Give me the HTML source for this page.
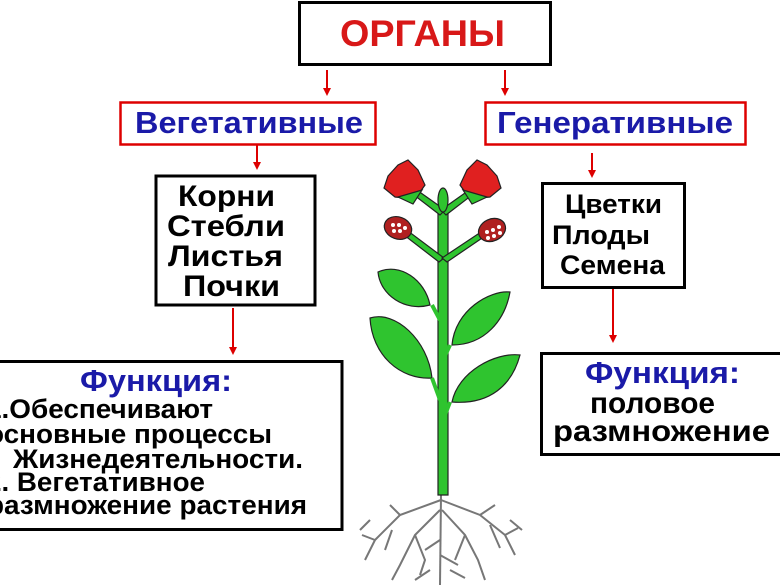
<!DOCTYPE html>
<html><head><meta charset="utf-8"><style>
html,body{margin:0;padding:0;background:#fff;width:780px;height:587px;overflow:hidden}
svg{display:block}
text{font-family:"Liberation Sans",Arial,sans-serif;font-weight:bold}
</style></head><body>
<svg width="780" height="587" viewBox="0 0 780 587" xmlns="http://www.w3.org/2000/svg">
<defs><marker id="ah" markerWidth="8" markerHeight="8" refX="4" refY="4" orient="auto" markerUnits="userSpaceOnUse"><path d="M0,0 L8,4 L0,8 z" fill="#d00"/></marker></defs>
<rect x="299.5" y="2.5" width="251" height="62" fill="#fff" stroke="#000" stroke-width="3"/>
<text x="340" y="46" font-size="37" fill="#d81818" textLength="165" lengthAdjust="spacingAndGlyphs">ОРГАНЫ</text>
<g stroke="#d00" stroke-width="2" fill="none">
<line x1="327" y1="70" x2="327" y2="92" marker-end="url(#ah)"/>
<line x1="505" y1="70" x2="505" y2="92" marker-end="url(#ah)"/>
<line x1="257" y1="144" x2="257" y2="166" marker-end="url(#ah)"/>
<line x1="592" y1="153" x2="592" y2="174" marker-end="url(#ah)"/>
<line x1="233" y1="308" x2="233" y2="351" marker-end="url(#ah)"/>
<line x1="613" y1="288" x2="613" y2="339" marker-end="url(#ah)"/>
</g>
<rect x="120.5" y="102.5" width="255" height="42" fill="#fff" stroke="#d00" stroke-width="2.5"/>
<text x="135" y="133" font-size="31" fill="#1a1aa8" textLength="228" lengthAdjust="spacingAndGlyphs">Вегетативные</text>
<rect x="485.5" y="102.5" width="260" height="42" fill="#fff" stroke="#d00" stroke-width="2.5"/>
<text x="497" y="133" font-size="31" fill="#1a1aa8" textLength="236" lengthAdjust="spacingAndGlyphs">Генеративные</text>
<rect x="156" y="176" width="159" height="129" fill="#fff" stroke="#000" stroke-width="3"/>
<g font-size="30" fill="#000">
<text x="178" y="206" textLength="97" lengthAdjust="spacingAndGlyphs">Корни</text>
<text x="167" y="236" textLength="118" lengthAdjust="spacingAndGlyphs">Стебли</text>
<text x="168" y="266" textLength="115" lengthAdjust="spacingAndGlyphs">Листья</text>
<text x="183" y="296" textLength="97" lengthAdjust="spacingAndGlyphs">Почки</text>
</g>
<rect x="542.5" y="183.5" width="142" height="104" fill="#fff" stroke="#000" stroke-width="3"/>
<g font-size="27" fill="#000">
<text x="565" y="213" textLength="97" lengthAdjust="spacingAndGlyphs">Цветки</text>
<text x="552" y="244" textLength="98" lengthAdjust="spacingAndGlyphs">Плоды</text>
<text x="560" y="274" textLength="105" lengthAdjust="spacingAndGlyphs">Семена</text>
</g>
<rect x="-5" y="361.5" width="347" height="168" fill="#fff" stroke="#000" stroke-width="3"/>
<text x="80" y="391" font-size="31" fill="#1a1aa8" textLength="152" lengthAdjust="spacingAndGlyphs">Функция:</text>
<g font-size="27" fill="#000">
<text x="-14" y="418" textLength="227" lengthAdjust="spacingAndGlyphs">1.Обеспечивают</text>
<text x="-13" y="443" textLength="285" lengthAdjust="spacingAndGlyphs">основные процессы</text>
<text x="13" y="468" textLength="290" lengthAdjust="spacingAndGlyphs">Жизнедеятельности.</text>
<text x="-14" y="491" textLength="219" lengthAdjust="spacingAndGlyphs">2. Вегетативное</text>
<text x="-13" y="514" textLength="320" lengthAdjust="spacingAndGlyphs">размножение растения</text>
</g>
<rect x="541.5" y="353.5" width="245" height="101" fill="#fff" stroke="#000" stroke-width="3"/>
<text x="585" y="383" font-size="31" fill="#1a1aa8" textLength="155" lengthAdjust="spacingAndGlyphs">Функция:</text>
<text x="590" y="413" font-size="30" fill="#000" textLength="125" lengthAdjust="spacingAndGlyphs">половое</text>
<text x="553" y="441" font-size="30" fill="#000" textLength="217" lengthAdjust="spacingAndGlyphs">размножение</text>
<g stroke="#222" stroke-width="1.2">
<g stroke="#777" stroke-width="2" fill="none">
<path d="M441 495 L440 585"/><path d="M441 500 L400 515 L375 540 L365 560"/><path d="M441 500 L480 515 L505 535 L515 555"/>
<path d="M440 510 L415 535 L400 565 L392 580"/><path d="M442 510 L465 535 L478 560 L485 580"/>
<path d="M400 515 L390 505"/><path d="M480 515 L495 505"/><path d="M375 540 L362 535"/><path d="M505 535 L518 528"/>
<path d="M415 535 L425 560 L420 575"/><path d="M465 535 L455 560"/><path d="M440 540 L425 550"/><path d="M440 555 L458 565"/>
<path d="M392 530 L385 550"/><path d="M490 525 L500 548"/><path d="M370 520 L360 530"/><path d="M510 520 L522 530"/>
<path d="M450 570 L465 578"/><path d="M430 570 L415 580"/>
</g>
<path d="M438 495 L438 210 L448 210 L448 495 Z" fill="#2fc42f"/>
<path d="M440 215 L410 192 L414 188 L445 210 Z" fill="#2fc42f"/>
<path d="M446 215 L476 192 L472 188 L441 210 Z" fill="#2fc42f"/>
<path d="M439 262 L400 232 L404 228 L444 258 Z" fill="#2fc42f"/>
<path d="M447 262 L488 234 L484 230 L442 258 Z" fill="#2fc42f"/>
<ellipse cx="443" cy="200" rx="5" ry="12" fill="#2fc42f"/>
<path d="M378 272 C400 262 425 280 430 305 C405 312 380 295 378 272 Z" fill="#2fc42f"/>
<path d="M370 318 C395 310 428 340 432 378 C400 380 372 355 370 318 Z" fill="#2fc42f"/>
<path d="M510 292 C490 290 455 310 452 345 C485 345 505 320 510 292 Z" fill="#2fc42f"/>
<path d="M520 355 C495 352 458 372 452 402 C490 405 512 385 520 355 Z" fill="#2fc42f"/>
<path d="M432 305 L440 320" fill="none" stroke-width="4" stroke="#2fc42f"/>
<path d="M432 378 L440 400" fill="none" stroke-width="4" stroke="#2fc42f"/>
<path d="M450 345 L443 360" fill="none" stroke-width="4" stroke="#2fc42f"/>
<path d="M450 402 L443 420" fill="none" stroke-width="4" stroke="#2fc42f"/>
<ellipse cx="398" cy="228" rx="14" ry="11" fill="#b02020" transform="rotate(20 398 228)"/>
<ellipse cx="492" cy="230" rx="14" ry="11" fill="#b02020" transform="rotate(-25 492 230)"/>
<path d="M395 197 L384 188 L388 176 L398 165 L408 160 L418 170 L425 185 L415 199 Z" fill="#e02020"/>
<path d="M490 197 L501 188 L497 176 L487 165 L477 160 L467 170 L460 185 L470 199 Z" fill="#e02020"/>
<path d="M398 197 L422 190 L413 204 Z" fill="#2fc42f"/>
<path d="M487 197 L463 190 L472 204 Z" fill="#2fc42f"/>
</g>
<g fill="#fff">
<circle cx="393" cy="225" r="2"/><circle cx="399" cy="225" r="2"/><circle cx="394" cy="231" r="2"/><circle cx="400" cy="231" r="2"/><circle cx="405" cy="228" r="2"/>
<circle cx="487" cy="232" r="2"/><circle cx="493" cy="230" r="2"/><circle cx="499" cy="227" r="2"/><circle cx="488" cy="238" r="2"/><circle cx="494" cy="236" r="2"/><circle cx="500" cy="233" r="2"/>
</g>
</svg>
</body></html>
